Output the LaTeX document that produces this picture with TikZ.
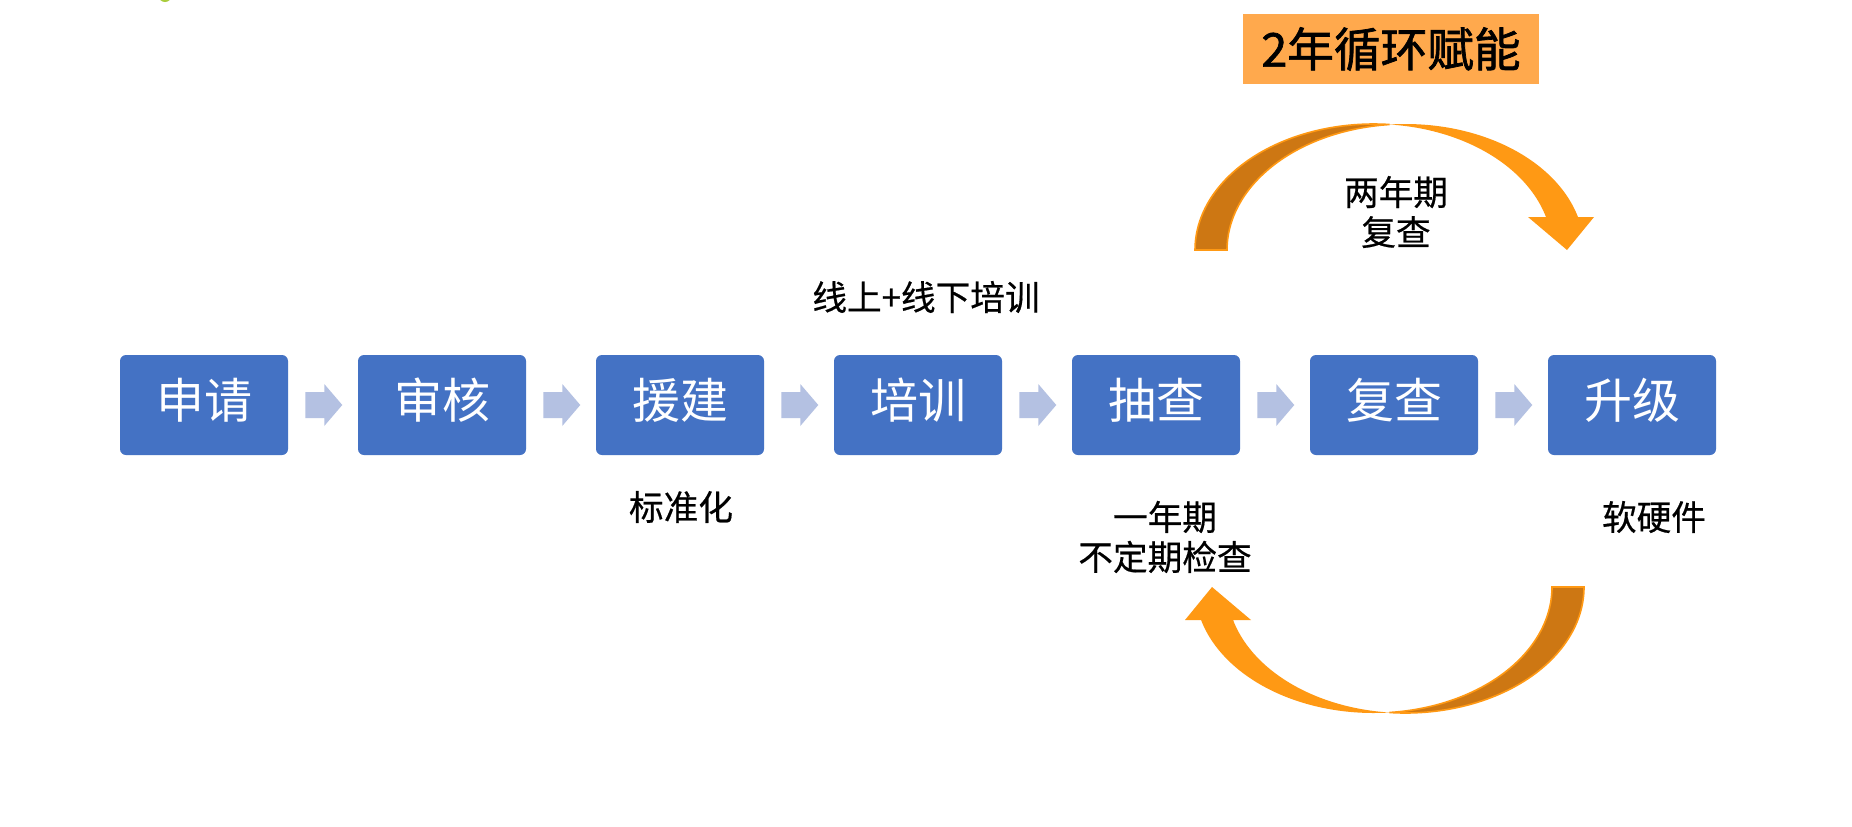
\documentclass[tikz,border=0pt]{standalone}
\usepackage{fontspec}
\newfontfamily\cjk{Noto Sans CJK SC}
\newfontfamily\cjklbl[FakeBold=0.5]{Noto Sans CJK SC}
\newfontfamily\cjkttl[FakeBold=1.5]{Noto Sans CJK SC}
\usetikzlibrary{calc}
\definecolor{boxblue}{HTML}{4472C4}
\definecolor{smallarrow}{HTML}{B4C1E2}
\definecolor{darkor}{HTML}{CD7713}
\definecolor{lightor}{HTML}{FF9914}
\definecolor{titleor}{HTML}{FFA94D}
\definecolor{leafgreen}{HTML}{A9CC3C}
\newcommand\myLoopArrow{%
  \fill[darkor, draw=lightor, line width=1.2pt]
    plot[domain=180:84.86, samples=60] ({1373.6+178.6*cos(\x)},{250-126*sin(\x)})
    -- plot[domain=95.14:180, samples=60] ({1405.6+178.6*cos(\x)},{250-126*sin(\x)})
    -- cycle;
  \fill[lightor]
    plot[domain=95.14:15.18, samples=60] ({1405.6+178.6*cos(\x)},{250-126*sin(\x)})
    -- (1594,217) -- (1567,250) -- (1528,217)
    -- plot[domain=15.18:84.86, samples=60] ({1373.6+178.6*cos(\x)},{250-126*sin(\x)})
    -- cycle;
}
\begin{document}
\begin{tikzpicture}[x=0.75pt,y=-0.75pt,
  stepbox/.style={fill=boxblue, rounded corners=4.5pt, minimum width=126pt,
    minimum height=75pt, inner sep=0pt, text=white,
    text height=31.7pt, text depth=11.8pt,
    font=\cjk\fontsize{36}{40}\selectfont},
  lbl/.style={font=\cjklbl\fontsize{26}{30}\selectfont, align=center, inner sep=0pt},
  blockarrow/.style={fill=smallarrow}
]
\useasboundingbox (0,0) rectangle (1852,826);
\fill[white] (0,0) rectangle (1852,826);
\begin{scope}
\clip (0,0) rectangle (1852,826);
\fill[leafgreen] (165,-18) ellipse [x radius=11, y radius=20];
\end{scope}

\node[stepbox] (b1) at (204,405) {申请};
\node[stepbox] (b2) at (442,405) {审核};
\node[stepbox] (b3) at (680,405) {援建};
\node[stepbox] (b4) at (918,405) {培训};
\node[stepbox] (b5) at (1156,405) {抽查};
\node[stepbox] (b6) at (1394,405) {复查};
\node[stepbox] (b7) at (1632,405) {升级};

\foreach \a/\b in {b1/b2,b2/b3,b3/b4,b4/b5,b5/b6,b6/b7}{
  \fill[blockarrow] ($(\a.east)+(17,-13)$) -- ($(\a.east)+(36,-13)$)
    -- ($(\a.east)+(36,-21)$) -- ($(\a.east)+(54,0)$)
    -- ($(\a.east)+(36,21)$) -- ($(\a.east)+(36,13)$)
    -- ($(\a.east)+(17,13)$) -- cycle;
}

\node[lbl] (l1) at (926,297) {线上+线下培训};
\node[lbl] (l2) at (681,507) {标准化};
\node[lbl] (l3) at (1165,537) {一年期\\不定期检查};
\node[lbl] (l4) at (1654,517) {软硬件};
\node[lbl] (l5) at (1396,212) {两年期\\复查};

\node[fill=titleor, minimum width=222pt, minimum height=52.5pt, inner sep=0pt,
  font=\cjkttl\fontsize{35}{40}\selectfont] (title) at (1391,49) {2年循环赋能};

\myLoopArrow
\begin{scope}[rotate around={180:(1389.5,418.5)}]
\myLoopArrow
\end{scope}
\end{tikzpicture}
\end{document}
